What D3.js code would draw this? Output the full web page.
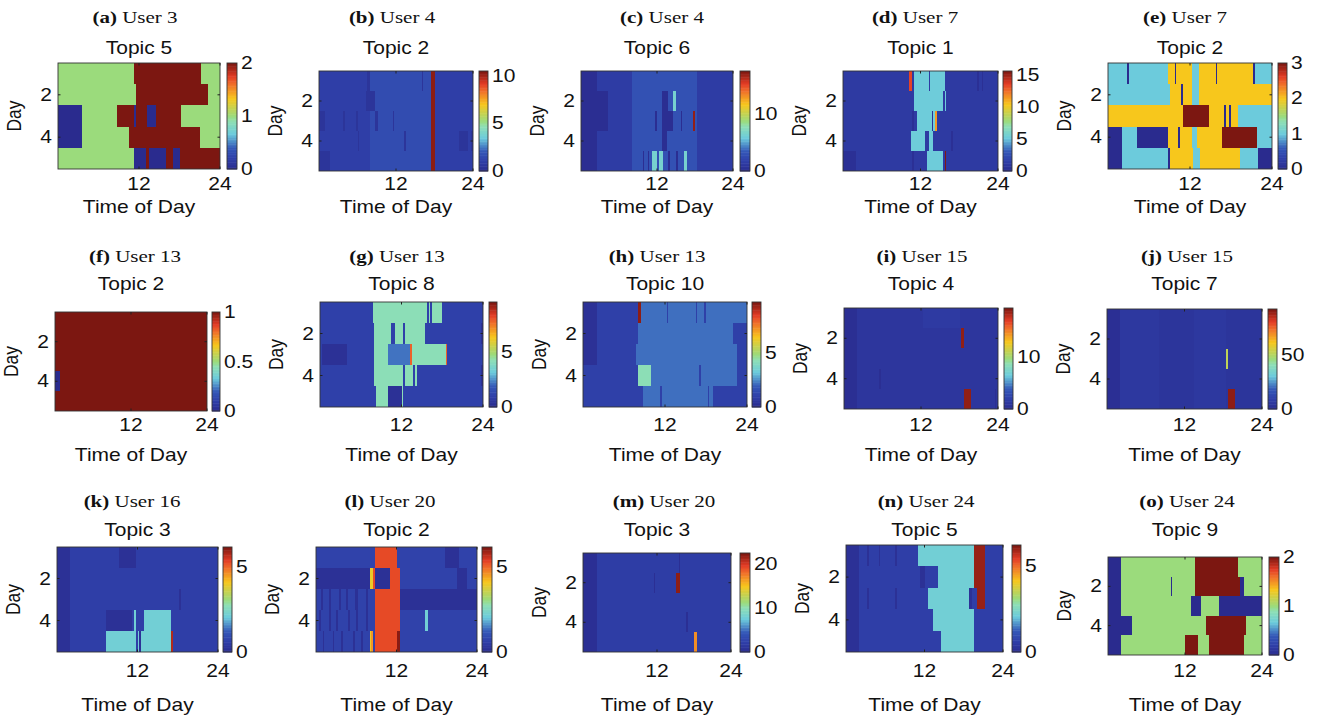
<!DOCTYPE html>
<html><head><meta charset="utf-8">
<script src="https://cdn.jsdelivr.net/npm/d3@7"></script>
<style>body{margin:0;background:#fff}</style>
</head><body>
<svg id="c" width="1317" height="720"></svg>
<script>
// ---------------- DATA ----------------
const panelLetters = ["a","b","c","d","e","f","g","h","i","j","k","l","m","n","o"];
const panelUsers = ["User 3","User 4","User 4","User 7","User 7","User 13","User 13","User 13","User 15","User 15","User 16","User 20","User 20","User 24","User 24"];
const panelTopics = ["Topic 5","Topic 2","Topic 6","Topic 1","Topic 2","Topic 2","Topic 8","Topic 10","Topic 4","Topic 7","Topic 3","Topic 2","Topic 3","Topic 5","Topic 9"];
const panelMax = [2, 10.5, 17.5, 15.6, 3, 1, 9.5, 9.7, 19.5, 92, 6.2, 6.2, 22.5, 6.2, 2];
const colorbarTicks = [[0,1,2],[0,5,10],[0,10],[0,5,10,15],[0,1,2,3],[0,0.5,1],[0,5],[0,5],[0,10],[0,50],[0,5],[0,5],[0,10,20],[0,5],[0,1,2]];
const hourTicks = [12, 24];
const dayTicks = [2, 4];

// each row = one day (1..5); tokens "Lxn": level index L held for n quarter-hours (96 per day)
const levels_a = [0, 1, 2];
const rows_a = ["1x45 2x40 1x11","1x46 2x43 1x7","0x14 1x21 2x10 0x1 2x7 0x5 2x15 1x23","0x14 1x28 2x42 1x12","1x45 0x7 2x2 0x10 2x4 0x4 2x24"];
const levels_b = [0.5, 1.0, 1.6, 10.3];
const rows_b = ["1x30 0x2 2x32 0x1 2x5 3x2 1x24","1x29 0x6 2x35 3x2 1x24","0x4 1x11 0x1 1x7 0x1 1x8 2x3 0x2 2x9 0x1 2x23 3x2 1x24","1x24 0x1 1x7 2x21 0x1 2x16 3x2 1x15 0x6 1x2 0x1","0x7 1x25 2x38 3x2 1x24"];
const levels_c = [0.3, 1.5, 3.0, 6.5, 17.0];
const rows_c = ["0x10 1x22 2x41 1x23","0x17 1x15 2x19 0x4 2x3 3x2 2x13 1x23","0x17 1x15 2x15 0x1 2x3 0x7 2x5 0x1 2x7 4x1 2x1 1x23","0x10 1x22 2x19 0x3 2x19 1x23","0x10 1x22 2x7 0x1 2x2 0x1 2x2 3x3 2x1 3x3 2x3 0x1 2x4 0x1 2x4 3x2 2x6 1x23"];
const levels_d = [0.4, 1.2, 5.3, 13.5, 11.5, 15.5];
const rows_d = ["1x41 3x2 1x1 2x9 1x1 2x9 1x20 0x1 1x2 0x1 1x9","1x44 2x18 1x1 2x1 1x32","1x43 0x1 1x2 2x9 0x1 2x1 4x1 1x38","1x42 2x9 1x2 2x3 1x11 0x1 1x28","0x8 1x35 0x1 1x8 2x10 1x1 5x1 1x32"];
const levels_e = [0, 1, 2, 3];
const rows_e = ["1x11 0x1 1x23 2x4 0x1 2x9 1x4 2x10 0x1 2x21 0x1 1x10","1x36 2x7 0x1 2x5 1x4 2x43","2x44 3x15 2x9 0x1 2x2 0x1 2x4 1x20","0x8 1x9 0x18 2x6 0x1 2x7 1x3 2x15 3x20 1x9","0x8 1x27 0x1 2x14 1x4 2x23 1x11 0x8"];
const levels_f = [0, 1];
const rows_f = ["1x96","1x96","1x96","0x3 1x93","1x96"];
const levels_g = [0.3, 1.0, 2.2, 4.2, 7.8];
const rows_g = ["1x31 3x32 1x1 3x1 1x1 3x6 1x24","1x32 3x10 1x2 3x5 1x1 3x12 1x33 0x1","1x1 0x15 1x16 3x8 2x13 4x1 3x20 4x1 1x21","1x32 3x17 1x1 3x5 1x1 3x1 1x38 0x1","1x33 3x7 0x8 3x1 1x47"];
const levels_h = [0.3, 1.0, 2.2, 4.3, 9.5];
const rows_h = ["0x8 1x24 4x2 2x15 1x1 2x16 1x1 2x4 1x1 2x24","0x8 1x24 2x56 1x8","0x8 1x23 2x59 1x6","1x32 3x8 2x28 1x1 2x21 1x6","1x35 2x10 1x1 2x27 1x1 2x2 1x20"];
const levels_i = [0.4, 1.1, 1.5, 19];
const rows_i = ["0x8 1x41 2x23 1x24","0x8 1x65 3x2 1x21","0x8 1x88","0x8 1x14 0x1 1x73","0x8 1x67 3x4 1x15 0x1 1x1"];
const levels_j = [2, 6, 4.5, 52, 90];
const rows_j = ["0x8 1x24 2x22 1x20 2x22","0x8 1x24 2x22 1x20 2x22","0x8 1x24 2x22 1x20 3x1 2x21","0x8 1x24 2x22 1x20 2x22","0x8 1x24 2x22 1x20 2x1 4x4 2x17"];
const levels_k = [0.2, 0.6, 2.2, 5.8];
const rows_k = ["0x8 1x29 0x10 1x49","0x8 1x88","0x8 1x65 0x1 1x22","0x8 1x21 0x16 1x1 2x1 1x5 2x16 1x28","0x8 1x21 2x18 1x1 2x1 0x1 2x18 3x1 1x27"];
const levels_l = [0.2, 0.7, 5.3, 6.1, 4.0, 2.2, 4.6];
const rows_l = ["1x35 2x13 1x29 0x8 1x11","0x32 4x2 2x1 0x9 2x6 1x34 0x6 1x6","1x3 0x1 1x4 0x1 1x5 0x1 1x3 0x1 1x4 0x2 1x5 0x1 1x4 2x15 0x46","1x2 0x1 1x5 0x1 1x3 0x1 1x6 0x1 1x4 0x1 1x5 0x1 1x4 2x15 1x15 5x2 1x29","1x4 0x1 1x5 0x1 1x4 0x1 1x6 0x1 1x4 0x1 1x4 4x1 6x1 1x1 2x13 3x2 1x46"];
const levels_m = [0.5, 2.0, 22, 17];
const rows_m = ["0x9 1x53 0x1 1x33","0x9 1x37 0x1 1x13 2x3 1x33","0x9 1x87","0x9 1x58 0x1 1x28","0x9 1x63 3x2 1x22"];
const levels_n = [0.2, 0.6, 2.2, 6.0];
const rows_n = ["0x8 1x5 0x1 1x6 0x1 1x9 0x1 1x13 2x34 3x7 1x11","0x8 1x37 0x3 1x8 2x22 3x7 1x11","0x8 1x5 0x1 1x16 0x1 1x19 2x25 0x2 1x3 3x5 1x11","0x8 1x45 2x25 1x18","0x8 1x50 2x20 1x18"];
const levels_o = [0, 1, 2];
const rows_o = ["0x8 1x46 2x27 1x15","0x8 1x31 0x1 1x14 2x28 0x3 1x11","0x8 1x44 0x6 1x11 0x27","0x15 1x46 2x25 1x10","0x8 1x40 2x8 1x7 2x22 1x11"];

const panelLevels = [levels_a,levels_b,levels_c,levels_d,levels_e,levels_f,levels_g,levels_h,levels_i,levels_j,levels_k,levels_l,levels_m,levels_n,levels_o];
const panelRows = [rows_a,rows_b,rows_c,rows_d,rows_e,rows_f,rows_g,rows_h,rows_i,rows_j,rows_k,rows_l,rows_m,rows_n,rows_o];

// ---------------- LAYOUT / STYLE ----------------
const layout = [
  {x0:58, y0:63, x1:220, y1:169, c0:227, c1:237, cap:135, row:0},
  {x0:319, y0:71, x1:473, y1:171, c0:479, c1:488, cap:392, row:0},
  {x0:581, y0:71, x1:733, y1:171, c0:740, c1:750, cap:662, row:0},
  {x0:843, y0:71, x1:998, y1:171, c0:1003, c1:1012, cap:915, row:0},
  {x0:1108, y0:63, x1:1272, y1:169, c0:1278, c1:1287, cap:1185, row:0},
  {x0:55, y0:312, x1:207, y1:411, c0:212, c1:220, cap:135, row:1},
  {x0:320, y0:302, x1:483, y1:407, c0:489, c1:497, cap:397, row:1},
  {x0:583, y0:302, x1:747, y1:407, c0:752, c1:761, cap:657, row:1},
  {x0:844, y0:308, x1:998, y1:409, c0:1004, c1:1013, cap:922, row:1},
  {x0:1107, y0:309, x1:1262, y1:409, c0:1268, c1:1277, cap:1187, row:1},
  {x0:57, y0:547, x1:218, y1:652, c0:223, c1:232, cap:132, row:2},
  {x0:316, y0:547, x1:477, y1:652, c0:482, c1:492, cap:390, row:2},
  {x0:583, y0:553, x1:731, y1:652, c0:740, c1:750, cap:664, row:2},
  {x0:846, y0:545, x1:1003, y1:652, c0:1012, c1:1021, cap:926, row:2},
  {x0:1108, y0:557, x1:1262, y1:655, c0:1269, c1:1279, cap:1187, row:2}
];
const rowText = [
  {cap:23, title:54, tick:190, xlab:213},
  {cap:262, title:290, tick:431, xlab:461},
  {cap:507, title:536, tick:677, xlab:711}
];
const SX = 1.2;           // horizontal stretch of the original figure's text
const FS = 17.5;
const SANS = "'Liberation Sans', Arial, Helvetica, sans-serif";
const SERIF = "'Liberation Serif', 'Times New Roman', serif";

const cmapStops  = [0, 0.1, 0.2, 0.333, 0.45, 0.5, 0.667, 0.8, 0.875, 1];
const cmapColors = ["#2a2b8e","#2f3fa8","#3458b8","#6ccbdc","#8edfb4","#9bdb7c","#f7c71c","#f0702a","#e33c25","#7c1711"];
const cmap = d3.scaleLinear().domain(cmapStops).range(cmapColors).interpolate(d3.interpolateRgb).clamp(true);

const svg = d3.select("#c");

function label(g, x, y, txt, anchor, font, rotate) {
  return g.append("text")
    .attr("transform", `translate(${x},${y}) scale(${SX},1)` + (rotate ? " rotate(-90)" : ""))
    .attr("text-anchor", anchor)
    .attr("font-family", font || SANS)
    .attr("font-size", FS)
    .attr("fill", "#111")
    .text(txt);
}

panelLetters.forEach((letter, i) => {
  const L = layout[i], R = rowText[L.row];
  const levels = panelLevels[i], maxV = panelMax[i];
  const g = svg.append("g");

  const x = d3.scaleLinear().domain([0, 24]).range([L.x0, L.x1]);
  const y = d3.scaleLinear().domain([0.5, 5.5]).range([L.y0, L.y1]);

  // expand run tokens into cells
  const runs = [];
  panelRows[i].forEach((r, di) => {
    let q = 0;
    r.trim().split(/\s+/).forEach(tok => {
      const [lv, n] = tok.split("x").map(Number);
      runs.push({day: di + 1, start: q / 4, end: (q + n) / 4, value: levels[lv]});
      q += n;
    });
  });

  g.append("g").selectAll("rect").data(runs).join("rect")
    .attr("x", d => x(d.start))
    .attr("width", d => x(d.end) - x(d.start))
    .attr("y", d => y(d.day - 0.5))
    .attr("height", d => y(d.day + 0.5) - y(d.day - 0.5))
    .attr("fill", d => cmap(d.value / maxV))
    .attr("shape-rendering", "crispEdges");

  // frame
  g.append("rect").attr("x", L.x0).attr("y", L.y0)
    .attr("width", L.x1 - L.x0).attr("height", L.y1 - L.y0)
    .attr("fill", "none").attr("stroke", "#333").attr("stroke-width", 0.9);

  // tick marks (inside)
  hourTicks.forEach(h => {
    g.append("line").attr("x1", x(h)).attr("x2", x(h)).attr("y1", L.y1).attr("y2", L.y1 - 2.5).attr("stroke", "#222");
    g.append("line").attr("x1", x(h)).attr("x2", x(h)).attr("y1", L.y0).attr("y2", L.y0 + 2.5).attr("stroke", "#222");
    label(g, x(h), R.tick, String(h), "middle");
  });
  dayTicks.forEach(dv => {
    g.append("line").attr("x1", L.x0).attr("x2", L.x0 + 2.5).attr("y1", y(dv)).attr("y2", y(dv)).attr("stroke", "#222");
    g.append("line").attr("x1", L.x1).attr("x2", L.x1 - 2.5).attr("y1", y(dv)).attr("y2", y(dv)).attr("stroke", "#222");
    label(g, L.x0 - 6, y(dv) + 6, String(dv), "end");
  });

  // colorbar
  const cy = d3.scaleLinear().domain([0, maxV]).range([L.y1, L.y0]);
  const nSteps = 64;
  const steps = d3.range(nSteps).map(k => ({lo: k * maxV / nSteps, hi: (k + 1) * maxV / nSteps}));
  g.append("g").selectAll("rect").data(steps).join("rect")
    .attr("x", L.c0).attr("width", L.c1 - L.c0)
    .attr("y", d => cy(d.hi)).attr("height", d => cy(d.lo) - cy(d.hi) + 0.5)
    .attr("fill", d => cmap((d.lo + d.hi) / 2 / maxV));
  g.append("rect").attr("x", L.c0).attr("y", L.y0)
    .attr("width", L.c1 - L.c0).attr("height", L.y1 - L.y0)
    .attr("fill", "none").attr("stroke", "#333").attr("stroke-width", 0.9);
  colorbarTicks[i].forEach(t => {
    label(g, L.c1 + 4, cy(t) + 6, String(t), "start");
  });

  // texts
  const cx = (L.x0 + L.x1) / 2;
  label(g, cx, R.title, panelTopics[i], "middle");
  label(g, cx, R.xlab, "Time of Day", "middle");
  label(g, L.x0 - 37, (L.y0 + L.y1) / 2, "Day", "middle", SANS, true);

  const cap = g.append("text")
    .attr("transform", `translate(${L.cap},${R.cap}) scale(${SX},1)`)
    .attr("text-anchor", "middle").attr("font-family", SERIF).attr("font-size", FS).attr("fill", "#111");
  cap.append("tspan").attr("font-weight", "bold").text(`(${letter})`);
  cap.append("tspan").text(" " + panelUsers[i]);
});
</script>
</body></html>
